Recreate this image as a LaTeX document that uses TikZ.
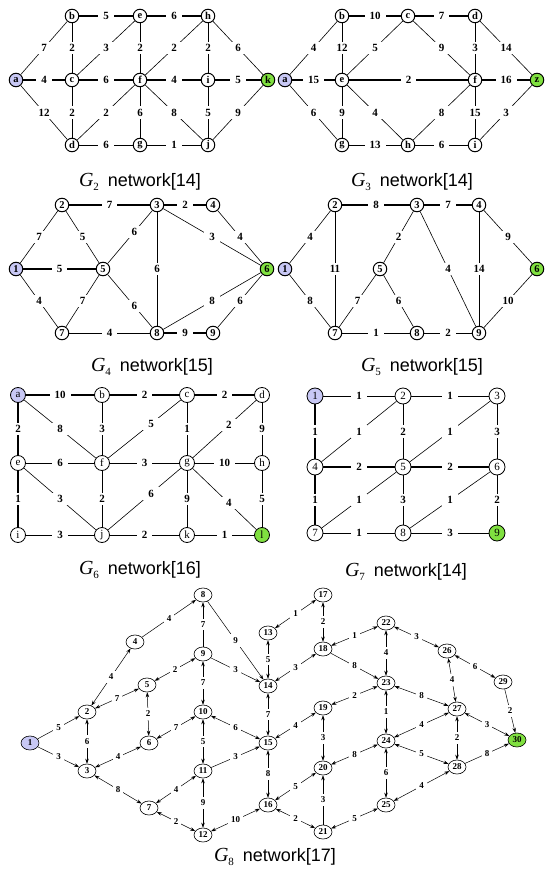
\documentclass[tikz,border=0pt]{standalone}
\usepackage{fontspec}
\setmainfont{Liberation Serif}
\newfontfamily\capsans{Liberation Sans}
\usetikzlibrary{shapes.geometric,arrows.meta}
\definecolor{nblue}{RGB}{200,200,245}
\definecolor{ngreen}{RGB}{128,224,64}
\newcommand\gcaption[2]{{\fontsize{20}{20}\selectfont\itshape G}\raisebox{-4pt}{\fontsize{11}{11}\selectfont #1}\hspace{9pt}{\capsans\fontsize{18}{18}\selectfont network[#2]}}
\begin{document}
\begin{tikzpicture}[x=1pt,y=-1pt,
  gn/.style={circle,draw,line width=1pt,inner sep=0pt,minimum size=13.5pt,font=\fontsize{10.5}{10.5}\selectfont\bfseries},
  gm/.style={circle,draw,line width=0.8pt,inner sep=0pt,minimum size=15pt,font=\fontsize{11}{11}\selectfont},
  lab/.style={fill=white,inner xsep=5pt,inner ysep=2.5pt,font=\fontsize{11}{11}\selectfont\bfseries},
  tk/.style={line width=1.3pt},
  tn/.style={line width=0.6pt},
  en/.style={ellipse,draw,line width=0.6pt,inner sep=0.5pt,minimum width=18pt,minimum height=14pt,font=\fontsize{9}{9}\selectfont\bfseries},
  l8/.style={fill=white,inner sep=3pt,font=\fontsize{9}{9}\selectfont\bfseries},
  ar/.style={line width=0.5pt,-{Stealth[length=5pt,width=3.5pt]}},
  ba/.style={line width=0.5pt,{Stealth[length=5pt,width=3.5pt]}-{Stealth[length=5pt,width=3.5pt]}},
  gcap/.style={inner sep=0pt}
]
\useasboundingbox[fill=white] (0,0) rectangle (550,882);

% ---------------- G2
\node[gn,fill=nblue] (a2) at (16,80) {a};
\node[gn] (b2) at (72,16) {b};
\node[gn] (e2) at (140,16) {e};
\node[gn] (h2) at (208,16) {h};
\node[gn] (c2) at (72,80) {c};
\node[gn] (f2) at (140,80) {f};
\node[gn] (i2) at (208,80) {i};
\node[gn,fill=ngreen] (k2) at (268,80) {k};
\node[gn] (d2) at (72,145) {d};
\node[gn] (g2) at (140,145) {g};
\node[gn] (j2) at (208,145) {j};
\draw[tn] (a2) -- node[lab]{7} (b2);
\draw[tk] (a2) -- node[lab]{4} (c2);
\draw[tn] (a2) -- node[lab]{12} (d2);
\draw[tk] (b2) -- node[lab]{5} (e2);
\draw[tk] (e2) -- node[lab]{6} (h2);
\draw[tn] (b2) -- node[lab]{2} (c2);
\draw[tn] (c2) -- node[lab]{3} (e2);
\draw[tn] (e2) -- node[lab]{2} (f2);
\draw[tn] (f2) -- node[lab]{2} (h2);
\draw[tn] (h2) -- node[lab]{2} (i2);
\draw[tn] (h2) -- node[lab]{6} (k2);
\draw[tk] (c2) -- node[lab]{6} (f2);
\draw[tk] (f2) -- node[lab]{4} (i2);
\draw[tk] (i2) -- node[lab]{5} (k2);
\draw[tn] (c2) -- node[lab]{2} (d2);
\draw[tn] (d2) -- node[lab]{2} (f2);
\draw[tn] (f2) -- node[lab]{6} (g2);
\draw[tn] (f2) -- node[lab]{8} (j2);
\draw[tn] (i2) -- node[lab]{5} (j2);
\draw[tn] (j2) -- node[lab]{9} (k2);
\draw[tn] (d2) -- node[lab]{6} (g2);
\draw[tn] (g2) -- node[lab]{1} (j2);
\node[gcap] (cap2) at (140,182) {\gcaption{2}{14}};

% ---------------- G3
\node[gn,fill=nblue] (a3) at (285,80) {a};
\node[gn] (b3) at (342,16) {b};
\node[gn] (c3) at (408,16) {c};
\node[gn] (d3) at (475,16) {d};
\node[gn] (e3) at (342,80) {e};
\node[gn] (f3) at (475,80) {f};
\node[gn,fill=ngreen] (z3) at (537,80) {z};
\node[gn] (g3) at (342,145) {g};
\node[gn] (h3) at (408,145) {h};
\node[gn] (i3) at (475,145) {i};
\draw[tn] (a3) -- node[lab]{4} (b3);
\draw[tk] (a3) -- node[lab]{15} (e3);
\draw[tn] (a3) -- node[lab]{6} (g3);
\draw[tk] (b3) -- node[lab]{10} (c3);
\draw[tk] (c3) -- node[lab]{7} (d3);
\draw[tn] (b3) -- node[lab]{12} (e3);
\draw[tn] (e3) -- node[lab]{5} (c3);
\draw[tn] (c3) -- node[lab]{9} (f3);
\draw[tn] (d3) -- node[lab]{3} (f3);
\draw[tn] (d3) -- node[lab]{14} (z3);
\draw[tk] (e3) -- node[lab]{2} (f3);
\draw[tk] (f3) -- node[lab]{16} (z3);
\draw[tn] (e3) -- node[lab]{9} (g3);
\draw[tn] (e3) -- node[lab]{4} (h3);
\draw[tn] (h3) -- node[lab]{8} (f3);
\draw[tn] (f3) -- node[lab]{15} (i3);
\draw[tn] (i3) -- node[lab]{3} (z3);
\draw[tn] (g3) -- node[lab]{13} (h3);
\draw[tn] (h3) -- node[lab]{6} (i3);
\node[gcap] (cap3) at (412,182) {\gcaption{3}{14}};

% ---------------- G4
\node[gn,fill=nblue] (p1) at (16,269) {1};
\node[gn] (p2) at (62,205) {2};
\node[gn] (p3) at (157,205) {3};
\node[gn] (p4) at (213,205) {4};
\node[gn] (p5) at (103,269) {5};
\node[gn,fill=ngreen] (p6) at (267,269) {6};
\node[gn] (p7) at (62,333) {7};
\node[gn] (p8) at (157,333) {8};
\node[gn] (p9) at (213,333) {9};
\draw[tn] (p1) -- node[lab]{7} (p2);
\draw[tk] (p1) -- node[lab]{5} (p5);
\draw[tn] (p1) -- node[lab]{4} (p7);
\draw[tk] (p2) -- node[lab]{7} (p3);
\draw[tk] (p3) -- node[lab]{2} (p4);
\draw[tn] (p2) -- node[lab]{5} (p5);
\draw[tn] (p5) -- node[lab,pos=0.6]{6} (p3);
\draw[tn] (p3) -- node[lab]{6} (p8);
\draw[tn] (p3) -- node[lab]{3} (p6);
\draw[tn] (p4) -- node[lab]{4} (p6);
\draw[tn] (p5) -- node[lab]{7} (p7);
\draw[tn] (p5) -- node[lab,pos=0.6]{6} (p8);
\draw[tn] (p7) -- node[lab]{4} (p8);
\draw[tk] (p8) -- node[lab]{9} (p9);
\draw[tn] (p8) -- node[lab]{8} (p6);
\draw[tn] (p9) -- node[lab]{6} (p6);
\node[gcap] (cap4) at (152,367) {\gcaption{4}{15}};

% ---------------- G5
\node[gn,fill=nblue] (r1) at (285,269) {1};
\node[gn] (r2) at (335,205) {2};
\node[gn] (r3) at (417,205) {3};
\node[gn] (r4) at (479,205) {4};
\node[gn] (r5) at (380,269) {5};
\node[gn,fill=ngreen] (r6) at (537,269) {6};
\node[gn] (r7) at (335,333) {7};
\node[gn] (r8) at (417,333) {8};
\node[gn] (r9) at (479,333) {9};
\draw[tn] (r1) -- node[lab]{4} (r2);
\draw[tn] (r1) -- node[lab]{8} (r7);
\draw[tk] (r2) -- node[lab]{8} (r3);
\draw[tk] (r3) -- node[lab]{7} (r4);
\draw[tn] (r2) -- node[lab]{11} (r7);
\draw[tn] (r3) -- node[lab]{2} (r5);
\draw[tn] (r3) -- node[lab]{4} (r9);
\draw[tn] (r4) -- node[lab]{14} (r9);
\draw[tn] (r4) -- node[lab]{9} (r6);
\draw[tn] (r5) -- node[lab]{7} (r7);
\draw[tn] (r5) -- node[lab]{6} (r8);
\draw[tn] (r7) -- node[lab]{1} (r8);
\draw[tn] (r8) -- node[lab]{2} (r9);
\draw[tn] (r9) -- node[lab]{10} (r6);
\node[gcap] (cap5) at (422,367) {\gcaption{5}{15}};

% ---------------- G6
\node[gm,fill=nblue] (a6) at (18,395) {a};
\node[gm] (b6) at (102,395) {b};
\node[gm] (c6) at (187,395) {c};
\node[gm] (d6) at (262,395) {d};
\node[gm] (e6) at (18,463) {e};
\node[gm] (f6) at (102,463) {f};
\node[gm] (g6) at (187,463) {g};
\node[gm] (h6) at (262,463) {h};
\node[gm] (i6) at (18,535) {i};
\node[gm] (j6) at (102,535) {j};
\node[gm] (k6) at (187,535) {k};
\node[gm,fill=ngreen] (l6) at (262,535) {l};
\draw[tk] (a6) -- node[lab]{10} (b6);
\draw[tk] (b6) -- node[lab]{2} (c6);
\draw[tk] (c6) -- node[lab]{2} (d6);
\draw[tk] (a6) -- node[lab]{2} (e6);
\draw[tn] (a6) -- node[lab]{8} (f6);
\draw[tn] (b6) -- node[lab]{3} (f6);
\draw[tn] (c6) -- node[lab,pos=0.41]{5} (f6);
\draw[tn] (c6) -- node[lab]{1} (g6);
\draw[tn] (d6) -- node[lab,pos=0.43]{2} (g6);
\draw[tn] (d6) -- node[lab]{9} (h6);
\draw[tn] (e6) -- node[lab]{6} (f6);
\draw[tn] (f6) -- node[lab]{3} (g6);
\draw[tn] (g6) -- node[lab]{10} (h6);
\draw[tk] (e6) -- node[lab]{1} (i6);
\draw[tn] (e6) -- node[lab]{3} (j6);
\draw[tn] (f6) -- node[lab]{2} (j6);
\draw[tn] (g6) -- node[lab,pos=0.41]{6} (j6);
\draw[tn] (g6) -- node[lab]{9} (k6);
\draw[tn] (g6) -- node[lab,pos=0.57]{4} (l6);
\draw[tn] (h6) -- node[lab]{5} (l6);
\draw[tn] (i6) -- node[lab]{3} (j6);
\draw[tn] (j6) -- node[lab]{2} (k6);
\draw[tn] (k6) -- node[lab]{1} (l6);
\node[gcap] (cap6) at (140,570) {\gcaption{6}{16}};

% ---------------- G7
\node[gm,minimum size=16pt,fill=nblue] (s1) at (315,396) {1};
\node[gm,minimum size=16pt] (s2) at (403,396) {2};
\node[gm,minimum size=16pt] (s3) at (497,396) {3};
\node[gm,minimum size=16pt] (s4) at (315,467) {4};
\node[gm,minimum size=16pt] (s5) at (403,467) {5};
\node[gm,minimum size=16pt] (s6) at (497,467) {6};
\node[gm,minimum size=16pt] (s7) at (315,533) {7};
\node[gm,minimum size=16pt] (s8) at (403,533) {8};
\node[gm,minimum size=16pt,fill=ngreen] (s9) at (497,533) {9};
\draw[tn] (s1) -- node[lab]{1} (s2);
\draw[tn] (s2) -- node[lab]{1} (s3);
\draw[tk] (s1) -- node[lab]{1} (s4);
\draw[tn] (s2) -- node[lab]{2} (s5);
\draw[tn] (s3) -- node[lab]{3} (s6);
\draw[tn] (s4) -- node[lab]{1} (s2);
\draw[tn] (s5) -- node[lab]{1} (s3);
\draw[tk] (s4) -- node[lab]{2} (s5);
\draw[tk] (s5) -- node[lab]{2} (s6);
\draw[tk] (s4) -- node[lab]{1} (s7);
\draw[tn] (s5) -- node[lab]{3} (s8);
\draw[tn] (s6) -- node[lab]{2} (s9);
\draw[tn] (s7) -- node[lab]{1} (s5);
\draw[tn] (s8) -- node[lab]{1} (s6);
\draw[tn] (s7) -- node[lab]{1} (s8);
\draw[tn] (s8) -- node[lab]{3} (s9);
\node[gcap] (cap7) at (406,572) {\gcaption{7}{14}};

% ---------------- G8
\node[en,fill=nblue] (n1) at (30,743) {1};
\node[en] (n2) at (87,712) {2};
\node[en] (n3) at (87,771) {3};
\node[en] (n4) at (135,642) {4};
\node[en] (n5) at (147,685) {5};
\node[en] (n6) at (149,743) {6};
\node[en] (n7) at (149,808) {7};
\node[en] (n8) at (203,595) {8};
\node[en] (n9) at (203,654) {9};
\node[en] (n10) at (203,712) {10};
\node[en] (n11) at (203,771) {11};
\node[en] (n12) at (203,835) {12};
\node[en] (n13) at (268,633) {13};
\node[en] (n14) at (268,686) {14};
\node[en] (n15) at (268,743) {15};
\node[en] (n16) at (268,805) {16};
\node[en] (n17) at (323,595) {17};
\node[en] (n18) at (323,649) {18};
\node[en] (n19) at (323,708) {19};
\node[en] (n20) at (323,768) {20};
\node[en] (n21) at (323,832) {21};
\node[en] (n22) at (386,623) {22};
\node[en] (n23) at (386,683) {23};
\node[en] (n24) at (386,741) {24};
\node[en] (n25) at (386,805) {25};
\node[en] (n26) at (447,651) {26};
\node[en] (n27) at (457,709) {27};
\node[en] (n28) at (457,767) {28};
\node[en] (n29) at (503,682) {29};
\node[en,fill=ngreen] (n30) at (517,740) {30};
\draw[ar] (n1) -- node[l8]{5} (n2);
\draw[ar] (n1) -- node[l8]{3} (n3);
\draw[ba] (n2) -- node[l8]{6} (n3);
\draw[ba] (n2) -- node[l8]{4} (n4);
\draw[ba] (n2) -- node[l8]{7} (n5);
\draw[ba] (n3) -- node[l8]{4} (n6);
\draw[ba] (n3) -- node[l8]{8} (n7);
\draw[ba] (n5) -- node[l8]{2} (n6);
\draw[ar] (n4) -- node[l8]{4} (n8);
\draw[ba] (n5) -- node[l8]{2} (n9);
\draw[ba] (n6) -- node[l8]{7} (n10);
\draw[ba] (n7) -- node[l8]{4} (n11);
\draw[ba] (n7) -- node[l8]{2} (n12);
\draw[ar] (n9) -- node[l8]{7} (n8);
\draw[ar] (n8) -- node[l8]{9} (n14);
\draw[ar] (n9) -- node[l8]{3} (n14);
\draw[ba] (n9) -- node[l8]{7} (n10);
\draw[ba] (n10) -- node[l8]{5} (n11);
\draw[ba] (n11) -- node[l8]{9} (n12);
\draw[ba] (n10) -- node[l8]{6} (n15);
\draw[ar] (n11) -- node[l8]{3} (n15);
\draw[ba] (n12) -- node[l8]{10} (n16);
\draw[ba] (n13) -- node[l8]{5} (n14);
\draw[ba] (n13) -- node[l8]{1} (n17);
\draw[ba] (n14) -- node[l8]{7} (n15);
\draw[ba] (n14) -- node[l8]{3} (n18);
\draw[ba] (n15) -- node[l8]{8} (n16);
\draw[ba] (n15) -- node[l8]{4} (n19);
\draw[ba] (n16) -- node[l8]{5} (n20);
\draw[ba] (n16) -- node[l8]{2} (n21);
\draw[ba] (n17) -- node[l8]{2} (n18);
\draw[ba] (n18) -- node[l8]{1} (n22);
\draw[ar] (n18) -- node[l8]{8} (n23);
\draw[ba] (n19) -- node[l8]{3} (n20);
\draw[ba] (n19) -- node[l8]{2} (n23);
\draw[ba] (n20) -- node[l8]{8} (n24);
\draw[ar] (n21) -- node[l8]{3} (n20);
\draw[ba] (n21) -- node[l8]{5} (n25);
\draw[ba] (n22) -- node[l8]{4} (n23);
\draw[ba] (n22) -- node[l8]{3} (n26);
\draw[ba] (n23) -- node[l8]{1} (n24);
\draw[ba] (n23) -- node[l8]{8} (n27);
\draw[ba] (n24) -- node[l8]{6} (n25);
\draw[ba] (n24) -- node[l8]{4} (n27);
\draw[ba] (n24) -- node[l8]{5} (n28);
\draw[ba] (n25) -- node[l8]{4} (n28);
\draw[ba] (n26) -- node[l8]{4} (n27);
\draw[ba] (n26) -- node[l8]{6} (n29);
\draw[ba] (n27) -- node[l8]{2} (n28);
\draw[ba] (n27) -- node[l8]{3} (n30);
\draw[ar] (n28) -- node[l8]{8} (n30);
\draw[ar] (n29) -- node[l8]{2} (n30);
\node[gcap] (cap8) at (275,857) {\gcaption{8}{17}};
\end{tikzpicture}
\end{document}
